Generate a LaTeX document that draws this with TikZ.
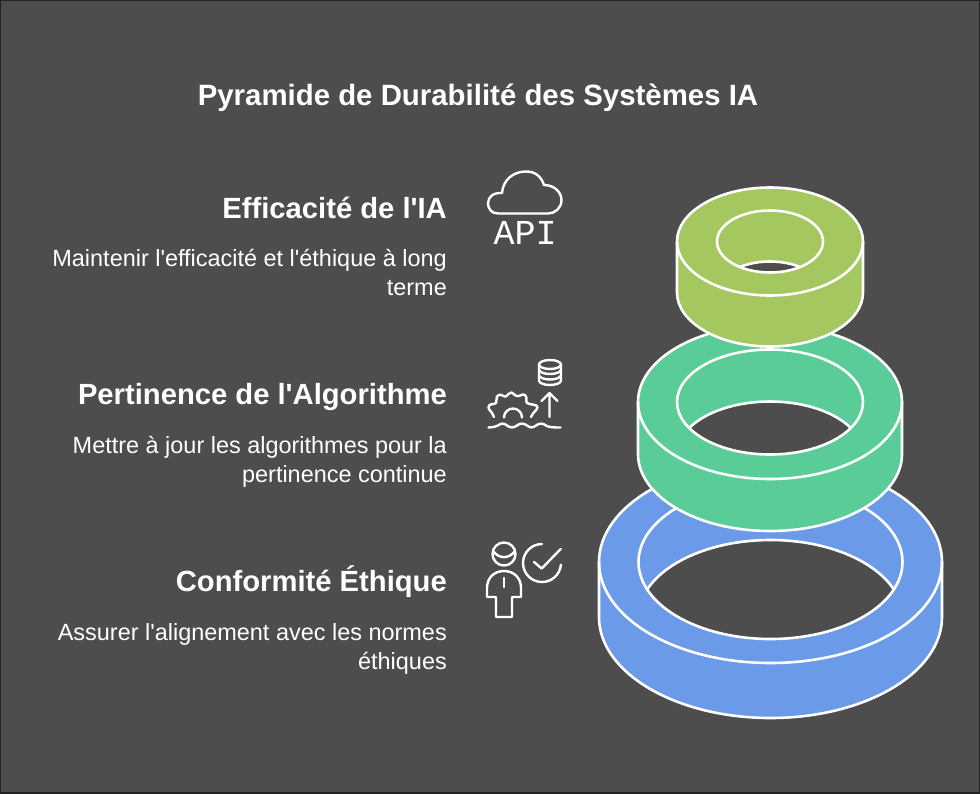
\documentclass[tikz,border=0pt]{standalone}
\usepackage{fontspec}
\newfontfamily\txtfont{Liberation Sans}
\newfontfamily\apifont{Liberation Mono}
\definecolor{bgc}{HTML}{4D4D4D}
\definecolor{olivec}{HTML}{A5C75F}
\definecolor{greenc}{HTML}{5ACC98}
\definecolor{bluec}{HTML}{6B9AE8}
\tikzset{
  ringline/.style={draw=white,line width=2.6pt,line join=round},
  iconline/.style={draw=white,line width=2.4pt,line cap=round,line join=round},
  titletext/.style={text=white,font=\txtfont\bfseries\fontsize{29.4}{34}\selectfont,inner sep=0pt,anchor=base},
  headtext/.style={text=white,font=\txtfont\bfseries\fontsize{29.2}{34}\selectfont,inner sep=0pt,anchor=base east},
  bodytext/.style={text=white,font=\txtfont\fontsize{23.45}{29}\selectfont,inner sep=0pt,anchor=base east},
}
% #1 cx, #2 cy, #3 outer rx, #4 outer ry, #5 inner rx, #6 inner ry, #7 height, #8 colour
\newcommand{\ringshape}[8]{%
  \path[ringline,fill=#8] (#1-#3,#2) arc[start angle=180,end angle=360,x radius=#3,y radius=#4]
     -- ++(0,#7) arc[start angle=0,end angle=180,x radius=#3,y radius=#4] -- cycle;
  \begin{scope}
    \clip (#1,#2) ellipse[x radius=#5,y radius=#6];
    \path[ringline,fill=bgc] (#1,#2+#7) ellipse[x radius=#5,y radius=#6];
  \end{scope}
  \path[ringline] (#1,#2) ellipse[x radius=#5,y radius=#6];
  \path[ringline] (#1-#3,#2) arc[start angle=180,end angle=0,x radius=#3,y radius=#4];
}
\begin{document}
\begin{tikzpicture}[x=1pt,y=-1pt]
\useasboundingbox (0,0) rectangle (980,793);
\fill[bgc] (0,0) rectangle (980,793);
\draw[black!55!bgc,line width=1.5pt] (0,0) rectangle (980,793);

\node[titletext] (title) at (478,105) {Pyramide de Durabilité des Systèmes IA};

\node[headtext] (h1) at (447,218) {Efficacité de l'IA};
\node[bodytext] (b1a) at (447,266) {Maintenir l'efficacité et l'éthique à long};
\node[bodytext] (b1b) at (447,295) {terme};
\node[headtext] (h2) at (447,404.5) {Pertinence de l'Algorithme};
\node[bodytext] (b2a) at (447,453) {Mettre à jour les algorithmes pour la};
\node[bodytext] (b2b) at (447,482) {pertinence continue};
\node[headtext] (h3) at (447,591) {Conformité Éthique};
\node[bodytext] (b3a) at (447,640) {Assurer l'alignement avec les normes};
\node[bodytext] (b3b) at (447,669) {éthiques};

% icon 1
\draw[iconline] (498,213.5) .. controls (491,213.5) and (488,208) .. (488,203.5)
   .. controls (488,197) and (493,192.5) .. (502,193)
   .. controls (503,180) and (513,171.5) .. (526,171.5)
   .. controls (535,171.5) and (541,176) .. (544,185)
   .. controls (554,185) and (561.500,192) .. (561.500,200)
   .. controls (561.500,208) and (555,213.5) .. (548,213.5) -- cycle;
\node[text=white,inner sep=0pt,anchor=base,font=\apifont\fontsize{35}{35}\selectfont] (api) at (525,244.500) {API};

% icon 2
\draw[iconline] (550,364.500) ellipse[x radius=11,y radius=4.5];
\draw[iconline] (539,364.500) -- (539,380.500) arc[start angle=180,end angle=0,x radius=11,y radius=4.5] -- (561,364.500);
\draw[iconline] (539,369.500) arc[start angle=180,end angle=0,x radius=11,y radius=4.5];
\draw[iconline] (539,375) arc[start angle=180,end angle=0,x radius=11,y radius=4.5];
\draw[iconline] (549.5,417) -- (549.5,393) (541.500,401) -- (549.5,393) -- (557.500,401);
\draw[iconline] (494,417) .. controls (492,411) and (488,410) .. (488.500,407) .. controls (489,403) and (494,405) .. (496,403)
  .. controls (498,400) and (495,398) .. (498,395.500) .. controls (501,393) and (503,397) .. (506,396.500)
  .. controls (509,395) and (508,392.500) .. (511.500,392.500) .. controls (514,392.500) and (513,395) .. (517,396)
  .. controls (520,397) and (522,393) .. (525,395) .. controls (528,398) and (525,401) .. (527,403)
  .. controls (530,405) and (537,404) .. (537.500,407) .. controls (537.500,410) and (533,412) .. (531,417);
\draw[iconline] (504,417.500) arc[start angle=180,end angle=360,radius=9];
\draw[iconline] (488.500,427.500) .. controls (492,427.500) and (495,427) .. (498,425.500) .. controls (501,423) and (504,423) .. (507,425.500)
  .. controls (510,428) and (514,428) .. (517,425.500) .. controls (520,423) and (524,423) .. (527,425.500)
  .. controls (530,428) and (533,428) .. (536,425.500) .. controls (539,423) and (543,423) .. (546,425.500)
  .. controls (549,427.500) and (555,427.500) .. (560.500,427.500);

% icon 3
\draw[iconline] (504,554) circle[radius=11.5];
\draw[iconline] (493.500,551.500) .. controls (499,559) and (509,559) .. (514.500,551.500);
\draw[iconline] (504,571) .. controls (494,571) and (487,578) .. (487,588) -- (487,597) -- (496,597) -- (496,617)
  -- (512,617) -- (512,597) -- (521,597) -- (521,588) .. controls (521,578) and (514,571) .. (504,571) -- cycle;
\draw[iconline] (504,578) -- (504,587);
\draw[iconline] (542,563) ++(-90:19) arc[start angle=270,end angle=5,radius=19];
\draw[iconline] (534,562) -- (541.700,568.500) -- (560.700,549);

% rings
\ringshape{770.5}{562}{171.5}{101}{132}{77}{55}{bluec}
\ringshape{770}{402}{132}{77}{93}{52.5}{52}{greenc}
\ringshape{770}{241.5}{93}{54}{53}{31}{51}{olivec}
\end{tikzpicture}
\end{document}
